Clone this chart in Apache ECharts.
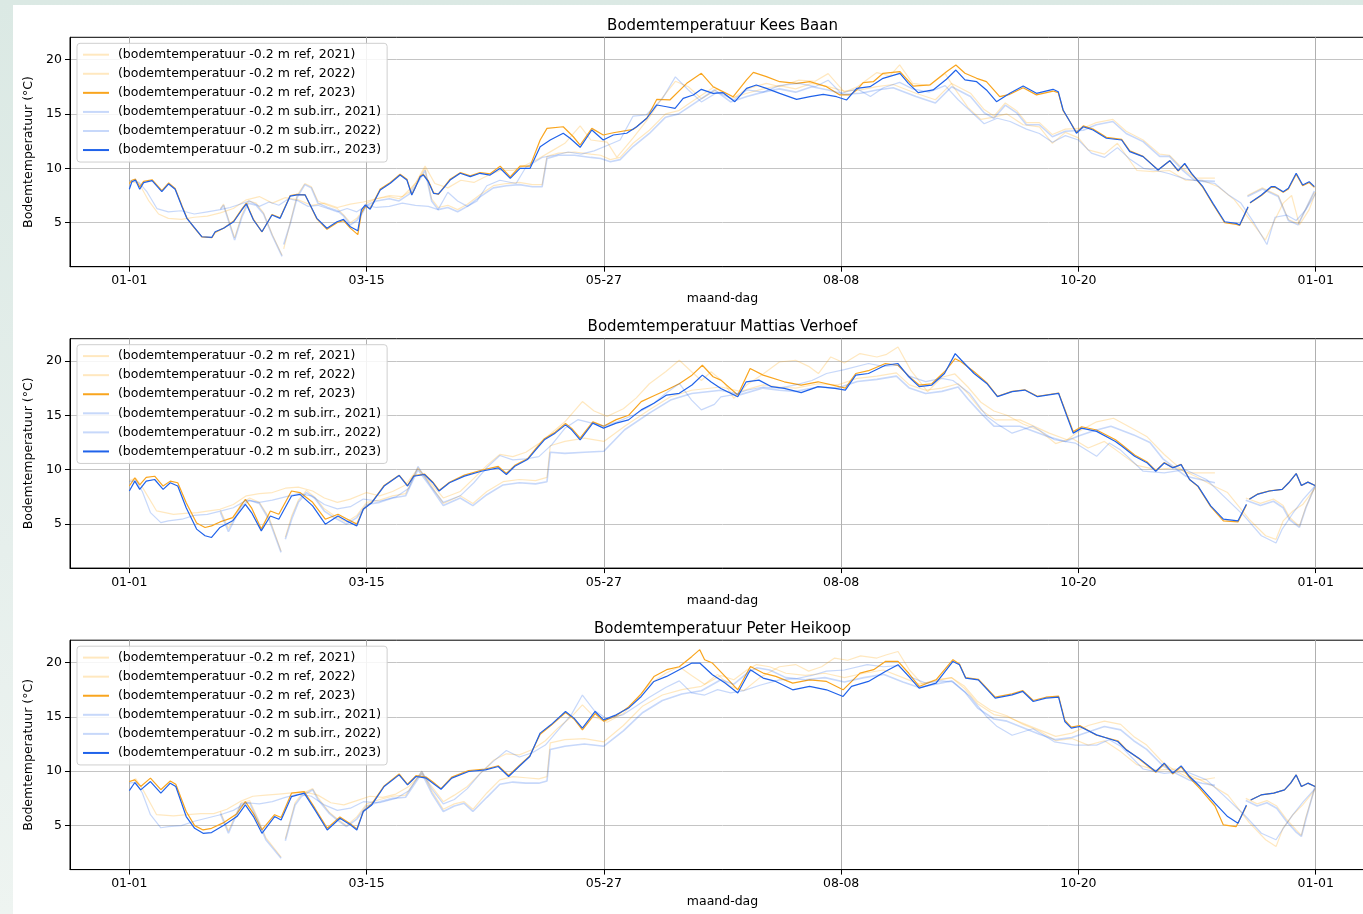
<!DOCTYPE html>
<html><head><meta charset="utf-8">
<script src="https://cdn.jsdelivr.net/npm/echarts@6/dist/echarts.min.js"></script>
<style>
html,body{margin:0;padding:0;width:1363px;height:914px;overflow:hidden;background:linear-gradient(180deg,#dbe9e4 0%,#e6efec 60%,#eef4f1 100%);}
#c{position:absolute;left:13px;top:5px;width:1380px;height:909px;background:#ffffff;}
</style></head><body><div id="c"></div>
<script>
// ---------- axis / text data ----------
const xTickValues = [0, 73, 146, 219, 292, 365];
const xTickLabels = ['01-01', '03-15', '05-27', '08-08', '10-20', '01-01'];
const yTickValues = [5, 10, 15, 20];
const chartTitles = ['Bodemtemperatuur Kees Baan', 'Bodemtemperatuur Mattias Verhoef', 'Bodemtemperatuur Peter Heikoop'];
const seriesNames = ['(bodemtemperatuur -0.2 m ref, 2021)', '(bodemtemperatuur -0.2 m ref, 2022)', '(bodemtemperatuur -0.2 m ref, 2023)',
  '(bodemtemperatuur -0.2 m sub.irr., 2021)', '(bodemtemperatuur -0.2 m sub.irr., 2022)', '(bodemtemperatuur -0.2 m sub.irr., 2023)'];

// ---------- Kees Baan ----------
const kbRef2021 = [[28,6.3],[29,6.7],[32.4,3.6],[34.6,5.7],[36.6,7.0],[39,6.8],[41.3,5.9],[44,3.9],[47,2.0],[47.2,null],[47.5,2.6],[49.5,5.0],[51.6,7.5],[54,8.6],[56,8.3],[58,7.0],[61,6.6],[64,6.3],[66,5.7],[68,5.0],[70,5.4],[71.5,6.0],[73,6.8],[76,7.2],[80,7.4],[83,7.2],[86,7.8],[89,9.0],[91,10.0],[93,7.2],[95,6.4],[98,6.6],[101,6.2],[104,6.7],[108,7.6],[112,8.4],[116,8.6],[120,8.7],[124,8.5],[127,8.5],[128.5,11.1],[132,11.4],[137,11.5],[142,11.3],[145,11.2],[148,10.8],[151,11.0],[155,12.3],[160,13.5],[165,15.0],[169,15.3],[172,15.9],[175,16.5],[180,17.5],[185,16.4],[190,16.9],[195,17.3],[200,17.6],[205,17.3],[210,17.8],[215,17.5],[220,17.1],[225,17.2],[230,17.5],[235,17.7],[242,16.9],[248,16.3],[253,17.8],[258.8,16.9],[263,15.4],[266,14.8],[269.5,16.0],[273,15.3],[276,14.2],[280,14.2],[284,13.1],[288,13.6],[293.5,13.7],[297.5,14.2],[302.6,14.5],[306.7,13.4],[311.9,12.6],[317,11.3],[320,11.2],[324,10.0],[327.8,9.1],[334,9.1],[334.5,null],[344,7.5],[348.6,8.2],[353.5,7.5],[356.6,5.3],[359.6,4.9],[364.6,7.8]];
const kbRef2022 = [[0,8.8],[3,8.6],[6,7.0],[9,5.8],[12,5.4],[16,5.3],[20,5.5],[24,5.6],[28,5.9],[32,6.3],[36,7.1],[40,7.4],[44,6.8],[48,7.3],[52,7.1],[56,6.6],[60,6.8],[64,6.4],[68,6.7],[72,6.9],[76,7.2],[80,7.5],[84,7.4],[88,8.6],[91,10.2],[94,8.6],[98,8.2],[102,8.9],[106,8.7],[110,9.3],[114,9.8],[118,9.8],[122,10.3],[126,10.9],[130,11.6],[134,12.3],[138.7,13.9],[142,12.6],[147,12.4],[150,11.0],[155,12.8],[160,14.7],[164,16.5],[168,18.0],[172,17.5],[176,16.4],[181,17.3],[186,16.5],[190,17.3],[196,17.8],[200,17.5],[206,18.1],[211,18.0],[215,18.7],[220,17.0],[224,17.5],[230,18.8],[234,18.5],[237,19.5],[241,17.8],[246,17.6],[251,18.7],[254,17.3],[258,15.6],[262,14.5],[266,14.7],[270,15.0],[275,14.0],[280,13.8],[284,12.3],[288,13.3],[292,12.8],[295,11.7],[300,11.3],[304,12.3],[310,9.8],[315,9.7],[320,9.8],[325,8.9],[330,8.9],[335,8.3],[340,7.1],[345,5.2],[349.5,3.4],[352,5.0],[355,6.8],[357.6,7.5],[360,4.8],[363,6.2],[365,7.8]];
const kbRef2023 = [[0,8.6],[0.8,8.9],[1.9,9.0],[3.2,8.3],[4.4,8.8],[7,8.95],[10,7.95],[12.1,8.65],[14.1,8.15],[16.2,6.55],[17.7,5.45],[19.8,4.6],[22.3,3.7],[25.4,3.62],[26.4,4.1],[29,4.5],[32.1,5.15],[34.6,6.25],[36,6.8],[38.2,5.3],[40.8,4.15],[43.9,5.75],[46.4,5.45],[49.5,7.5],[51.6,7.6],[54.1,7.55],[57.7,5.35],[60.8,4.4],[63.9,5.0],[65.9,5.2],[68,4.5],[70.3,3.9],[71.4,5.9],[72.6,6.5],[74.1,6.3],[77.2,8.1],[80.3,8.7],[83.3,9.45],[85.4,9.0],[86.9,7.6],[87.9,8.2],[89.5,9.3],[90.5,9.45],[92,8.85],[93.6,7.75],[95.1,7.6],[96.6,8.2],[98.7,9.0],[101.8,9.6],[104.9,9.3],[107.9,9.6],[111,9.5],[114.1,10.2],[117.2,9.2],[120.2,10.2],[123.3,10.2],[126.4,12.6],[128.5,13.67],[133.5,13.82],[136.6,12.9],[138.7,12.14],[142.3,13.67],[145.8,13.06],[148.9,13.27],[155.1,13.58],[159.2,14.6],[162.3,16.34],[166.3,16.28],[171.5,17.81],[176,18.73],[179.6,17.5],[185.8,16.58],[189.9,18.12],[192,18.82],[196,18.42],[200.1,17.96],[205.3,17.81],[209.4,17.96],[214.5,17.5],[218.6,16.74],[221.7,16.74],[223.8,17.2],[225.8,17.87],[228.9,17.96],[231.9,18.73],[237.1,18.88],[241.2,17.56],[246.3,17.66],[251.4,18.88],[254.3,19.49],[257.1,18.73],[260.7,18.27],[263.7,17.96],[267.8,16.58],[270.9,16.8],[275,17.4],[279.1,16.75],[284.2,17.1],[285.8,16.95],[287.3,15.3],[289.4,14.3],[291.4,13.3],[293.5,13.9],[296.5,13.6],[300.6,12.85],[305.3,12.65],[307.8,11.6],[311.9,11.1],[316.5,9.85],[320.1,10.7],[322.7,9.75],[324.7,10.4],[326.8,9.5],[330.3,8.25],[333.4,6.7],[337,5.0],[340.6,4.85],[341.6,4.75],[344.2,6.4],[344.5,null],[344.8,6.8],[348.3,7.5],[351.3,8.25],[352.5,8.25],[355,7.8],[356.6,8.1],[359,9.45],[361,8.4],[363,8.7],[364.6,8.25]];
const kbSub2021 = [[28,6.2],[29,6.6],[32.4,3.4],[34.6,5.5],[36.6,6.8],[39,6.6],[41.3,5.8],[44,3.8],[47,1.9],[47.2,null],[47.5,3.0],[49.5,4.9],[51.6,7.3],[54,8.5],[56,8.2],[58,6.8],[61,6.4],[64,6.1],[66,5.6],[68,4.8],[70,5.2],[71.5,5.8],[73,6.6],[76,7.0],[80,7.2],[83,7.0],[86,7.6],[89,8.8],[91,9.8],[93,7.0],[95,6.2],[98,6.4],[101,6.0],[104,6.5],[108,7.4],[112,8.2],[116,8.4],[120,8.5],[124,8.3],[127,8.3],[128.5,10.9],[132,11.2],[137,11.2],[142,11.0],[145,10.9],[148,10.6],[151,10.8],[155,12.0],[160,13.2],[165,14.7],[169,15.0],[172,15.6],[175,16.2],[180,17.2],[185,16.1],[190,16.6],[195,17.0],[200,17.3],[205,17.0],[210,17.5],[215,17.2],[220,16.8],[225,16.9],[230,17.2],[235,17.4],[242,16.6],[248,16.0],[253,17.5],[258.8,16.6],[263,15.1],[266,14.6],[269.5,15.8],[273,15.1],[276,14.0],[280,14.0],[284,12.9],[288,13.4],[293.5,13.5],[297.5,14.0],[302.6,14.3],[306.7,13.2],[311.9,12.45],[317,11.1],[320,11.1],[324,9.84],[327.8,8.9],[334,8.8],[334.5,null],[344,7.4],[348.6,8.1],[353.5,7.4],[356.6,5.2],[359.6,4.8],[364.6,7.9]];
const kbSub2022 = [[0,8.9],[3,8.7],[5.5,7.8],[8.5,6.3],[12,6.0],[16,6.1],[20,5.8],[24,6.0],[28,6.2],[31,6.4],[34,6.7],[37,7.0],[40,6.5],[43,6.9],[46,6.6],[49,7.2],[52,7.0],[55,6.5],[58,6.6],[61,6.3],[64,6.0],[67,6.3],[70,6.0],[73,6.6],[76,6.4],[80,6.5],[84,6.8],[88,6.6],[92,6.5],[95,6.2],[98,7.8],[101,7.0],[104,6.5],[107,7.0],[110,8.4],[114,8.9],[119,8.6],[122,10.1],[127,11.0],[131,11.2],[135,11.5],[139,11.3],[143,11.6],[147,12.1],[151,12.6],[155,14.8],[159,14.9],[164,16.4],[168,18.4],[172,17.2],[176,16.1],[181,17.0],[186,16.3],[190,17.2],[195,17.0],[200,17.6],[206,17.8],[211,17.5],[215,18.1],[219,16.9],[224,17.3],[228,16.6],[232,17.4],[237,17.9],[241,17.3],[246,17.0],[251,17.6],[255,16.3],[259,15.2],[263,14.1],[267,14.6],[271,14.3],[276,13.6],[280,13.2],[284,12.4],[288,13.0],[292,12.6],[296,11.4],[300,11.0],[304,11.9],[308,10.8],[312,10.0],[316,9.8],[320,9.5],[325,9.0],[330,8.8],[334,8.6],[338,7.6],[342,6.8],[346,5.0],[350,3.0],[352.5,5.5],[356,5.7],[359,5.2],[362,6.2],[365,7.7]];
const kbSub2023 = [[0,8.07],[0.8,8.77],[1.9,8.92],[3.2,8.07],[4.4,8.68],[7,8.86],[10,7.85],[12.1,8.56],[14.1,8.07],[16.2,6.47],[17.7,5.4],[19.8,4.63],[22.3,3.71],[25.4,3.66],[26.4,4.17],[29,4.49],[32.1,5.09],[34.6,6.17],[36,6.72],[38.2,5.25],[40.8,4.17],[43.9,5.71],[46.4,5.4],[49.5,7.45],[51.6,7.55],[54.1,7.55],[57.7,5.4],[60.8,4.49],[63.9,5.09],[65.9,5.31],[68,4.63],[70.3,4.26],[71.4,6.17],[72.6,6.63],[74.1,6.23],[77.2,8.0],[80.3,8.62],[83.3,9.38],[85.4,8.92],[86.9,7.55],[87.9,8.16],[89.5,9.23],[90.5,9.38],[92,8.77],[93.6,7.7],[95.1,7.64],[96.6,8.16],[98.7,8.92],[101.8,9.54],[104.9,9.23],[107.9,9.54],[111,9.38],[114.1,10.0],[117.2,9.08],[120.2,10.0],[123.3,10.0],[126.4,11.99],[129.5,12.6],[133.5,13.22],[135.6,12.76],[138.7,11.93],[142.3,13.52],[145.8,12.6],[148.9,13.06],[153,13.22],[156.1,13.82],[159.2,14.6],[162.3,15.82],[165.3,15.66],[167.9,15.51],[170.4,16.43],[173.5,16.74],[176,17.26],[179.6,16.89],[182.7,16.95],[186.3,16.12],[189.9,17.35],[192.9,17.66],[196,17.35],[200.1,16.89],[205.3,16.34],[209.4,16.58],[213.5,16.8],[217.6,16.58],[220.7,16.28],[223.8,17.35],[227.9,17.5],[231.9,18.27],[237.1,18.73],[239.7,17.81],[242.7,16.95],[247.3,17.2],[251.4,18.18],[254.3,19.03],[257.1,18.12],[260.7,17.96],[263.7,17.2],[266.8,16.12],[270.9,16.89],[275,17.56],[279.1,16.89],[284.2,17.26],[285.8,17.04],[287.3,15.36],[289.4,14.28],[291.4,13.22],[293.5,13.82],[296.5,13.52],[300.6,12.76],[305.3,12.6],[307.8,11.53],[311.9,11.07],[316.5,9.84],[320.1,10.7],[322.7,9.78],[324.7,10.46],[326.8,9.54],[330.3,8.31],[333.4,6.78],[337,5.09],[340.6,4.94],[341.6,4.79],[344.2,6.47],[344.5,null],[344.8,6.84],[348.3,7.55],[351.3,8.31],[352.5,8.31],[355,7.85],[356.6,8.16],[359,9.54],[361,8.46],[363,8.77],[364.6,8.31]];

// ---------- Mattias Verhoef ----------
const mvRef2021 = [[28,6.3],[30.5,4.6],[34.4,6.9],[37,7.4],[40,7.0],[43,5.6],[46.7,2.5],[47.2,null],[48,3.8],[50,5.8],[52,7.2],[54.5,8.1],[57,7.5],[60,6.4],[63,5.8],[66.8,5.2],[70,5.8],[73,7.0],[77,7.2],[81,7.6],[85,7.8],[88.8,10.2],[92.7,8.6],[96.6,6.9],[101.8,7.6],[105.7,6.9],[110,8.0],[115,8.9],[120,9.1],[125,9.0],[128.5,9.3],[129.5,12.2],[134,12.6],[140,12.9],[146,12.6],[152.4,14.0],[160,15.5],[166.5,16.7],[173,17.3],[182,17.6],[188,17.2],[195,17.8],[200,17.6],[205,17.5],[212,17.9],[218,17.8],[224,18.4],[230,18.6],[236,18.9],[240,17.8],[245,17.3],[250,17.5],[255,17.9],[258,17.0],[262,15.5],[266.4,14.58],[274,14.58],[283,13.36],[288.5,12.75],[292,13.5],[297.6,14.4],[302.8,14.73],[309.3,13.67],[313,13.06],[318.4,11.4],[324.9,9.71],[334,9.71],[334.5,null],[343.5,7.4],[348,6.9],[352,7.3],[355,6.7],[357,5.6],[360,4.8],[362,6.6],[364.8,8.4]];
const mvRef2022 = [[0,9.0],[2,9.2],[4,8.4],[8.4,6.21],[13.6,5.9],[18,6.0],[21,6.06],[24,6.2],[27.9,6.36],[32,6.8],[36,7.6],[40,7.8],[44,7.9],[48,8.3],[52,8.4],[56.4,8.04],[60,7.4],[64,7.0],[68,7.3],[73,7.9],[77,7.6],[81,8.0],[85,8.6],[88.8,10.1],[92.7,8.8],[96.6,7.4],[101.8,8.0],[106,9.2],[110,10.4],[114,11.4],[118,11.2],[122,11.6],[126,12.4],[130,13.4],[134,14.4],[139.4,16.26],[143,15.4],[147,14.9],[152,15.6],[156,16.6],[160,17.9],[165,19.0],[169.2,20.06],[173,19.0],[176,18.2],[179,19.0],[183,18.0],[186,16.56],[190,17.8],[195,18.8],[200,19.9],[205,20.06],[209,19.5],[212,18.84],[215.8,20.36],[220,19.8],[224.8,20.67],[230,20.36],[233,20.6],[236.5,21.28],[240.4,19.15],[245.6,17.17],[250,18.5],[254,18.8],[258,17.6],[262,16.2],[266,15.4],[270,15.0],[275,14.2],[280,13.6],[285,12.4],[290,12.9],[295,12.0],[300,12.6],[305,11.5],[310,10.4],[316,10.0],[322,10.2],[328,9.4],[333,8.6],[337.9,7.9],[344.5,5.45],[349.6,3.93],[352.8,3.6],[355,5.3],[358,6.2],[361,6.8],[364.8,8.3]];
const mvRef2023 = [[0,8.5],[1.7,9.25],[3.2,8.6],[5.2,9.3],[7.8,9.4],[10.4,8.5],[12.6,8.95],[14.9,8.8],[17.5,6.97],[20.7,5.1],[23.3,4.69],[25.3,4.84],[27.9,5.2],[31.8,5.6],[35.7,7.28],[37.6,6.5],[40.6,4.54],[43.4,6.2],[46,5.9],[49.9,8.04],[52.5,7.9],[56.4,7.0],[60.3,5.45],[64.2,5.9],[66.8,5.5],[70,5.0],[72,6.4],[74.6,7.0],[78.4,8.55],[83,9.5],[85.6,8.55],[87.5,9.45],[90.8,9.6],[93.4,8.85],[95.3,8.1],[98.5,8.85],[103.1,9.5],[108.3,9.95],[113.5,10.3],[116,9.65],[118.6,10.4],[122.5,11.0],[125.1,11.95],[127.7,12.85],[131,13.45],[134.2,14.25],[136.1,13.8],[138.7,12.9],[142.6,14.4],[145.9,14.0],[149.8,14.6],[153.6,15.0],[157.5,16.26],[161.4,16.8],[165.3,17.32],[169.2,17.9],[173.1,18.69],[176.3,19.6],[179.6,18.54],[182,18.23],[187.2,16.86],[191,19.3],[195,18.69],[201.5,18.08],[206.7,17.78],[211.9,18.08],[218.4,17.63],[220.3,17.5],[223.5,18.84],[227.4,19.1],[232.6,19.76],[236.5,19.6],[239.8,18.6],[243,17.78],[246.9,17.9],[250.8,19.0],[254.1,20.2],[256,19.9],[259.9,19.0],[263.8,18.0],[267.1,16.75],[271.6,17.2],[275.5,17.35],[279.4,16.75],[285.9,17.05],[288.5,15.0],[290.4,13.5],[293,13.95],[297.6,13.65],[303.4,12.75],[305.4,12.3],[309.3,11.35],[313.2,10.7],[315.8,9.9],[318.4,10.65],[321,10.2],[323.6,10.5],[326.2,9.1],[328.8,8.45],[332.7,6.6],[336.6,5.3],[341.1,5.2],[343.7,6.75],[344.2,null],[344.6,7.3],[347,7.75],[350.8,8.05],[354.7,8.2],[356.7,8.8],[359,9.65],[360.6,8.55],[362.6,8.86],[364.8,8.55]];
const mvSub2021 = [[28,6.1],[30.5,4.3],[34.4,6.6],[37,7.2],[40,6.9],[43,5.4],[46.7,2.4],[47.2,null],[48,3.6],[50,5.5],[52,7.0],[54.5,7.9],[57,7.4],[60,6.2],[63,5.6],[66.8,5.0],[70,5.6],[73,6.8],[77,7.0],[81,7.4],[85,7.6],[88.8,10.0],[92.7,8.4],[96.6,6.7],[101.8,7.4],[105.7,6.7],[110,7.7],[115,8.6],[120,8.8],[125,8.7],[128.5,8.9],[129.5,11.6],[134,11.5],[140,11.6],[146,11.7],[152.4,13.67],[160,15.2],[166.5,16.4],[173,17.0],[182,17.3],[188,16.9],[195,17.5],[200,17.3],[205,17.2],[212,17.6],[218,17.5],[224,18.1],[230,18.3],[236,18.6],[240,17.5],[245,17.0],[250,17.2],[255,17.6],[258,16.5],[262,15.2],[266,14.0],[274,14.0],[283,13.0],[288,12.6],[292,13.1],[297,13.6],[302,14.0],[309,13.2],[314,12.5],[318,11.0],[325,9.4],[334,8.8],[334.5,null],[343.5,7.2],[348,6.7],[352,7.1],[355,6.5],[357,5.4],[360,4.7],[362,6.5],[364.8,8.5]];
const mvSub2022 = [[0,8.9],[2,9.0],[4,8.0],[6.5,6.06],[9.7,5.14],[12,5.3],[16.2,5.45],[20,5.8],[24,5.9],[28,6.2],[32,6.5],[36,7.2],[40,7.0],[44,7.2],[48,7.5],[52,7.8],[56,7.6],[60,6.8],[64,6.4],[68,6.6],[72,7.3],[77,7.1],[82,7.5],[86,8.3],[88.8,10.3],[92.7,8.5],[96.6,7.0],[101.8,7.6],[106,8.8],[110,10.2],[114,11.3],[118,10.9],[122,11.0],[126,11.2],[130,12.3],[134,13.8],[138,14.6],[142,14.3],[146,14.0],[150,14.4],[155,15.0],[160,15.8],[165,17.0],[169.2,17.93],[173,16.4],[176,15.5],[180,16.0],[182,16.7],[186,16.9],[190,17.3],[195,17.6],[200,17.5],[205,17.8],[210,18.2],[214.5,18.84],[220,19.2],[227.4,19.76],[232,19.5],[236.5,19.6],[240,18.6],[245,18.1],[250,18.4],[253.4,18.2],[258.6,17.0],[263.8,14.9],[267,14.2],[271.6,13.36],[278,14.0],[284.6,12.75],[291,12.45],[297.6,11.23],[301.5,12.45],[305,11.8],[311.9,9.86],[318.4,9.7],[324.9,10.0],[331.4,9.1],[336.6,7.6],[343,5.75],[348.3,3.93],[352.8,3.26],[354.7,4.54],[358,6.0],[361.2,7.3],[364.8,8.5]];
const mvSub2023 = [[0,8.04],[1.7,8.95],[3.2,8.19],[5.2,8.95],[7.8,9.1],[10.4,8.19],[12.6,8.8],[14.9,8.5],[17.5,6.51],[20.7,4.54],[23.3,3.93],[25.3,3.77],[27.9,4.69],[31.8,5.3],[35.7,6.82],[37.6,6.06],[40.6,4.38],[43.4,5.75],[46,5.45],[49.9,7.58],[52.5,7.73],[56.4,6.67],[60.3,4.99],[64.2,5.75],[66.8,5.3],[70,4.84],[72,6.36],[74.6,6.97],[78.4,8.5],[83,9.47],[85.6,8.5],[87.5,9.4],[90.8,9.56],[93.4,8.8],[95.3,8.04],[98.5,8.8],[103.1,9.41],[108.3,9.86],[113.5,10.17],[116,9.56],[118.6,10.32],[122.5,10.93],[125.1,11.84],[127.7,12.75],[131,13.36],[134.2,14.12],[136.1,13.67],[138.7,12.75],[142.6,14.28],[145.9,13.82],[149.8,14.28],[153.6,14.58],[157.5,15.5],[161.4,16.1],[165.3,16.86],[169.2,17.02],[173.1,17.78],[176.3,18.69],[178.9,18.08],[182,17.47],[187.2,16.71],[189.8,18.08],[193.7,18.23],[197.6,17.63],[201.5,17.47],[206.7,17.08],[211.9,17.63],[217.1,17.47],[220.3,17.32],[223.5,18.69],[227.4,18.84],[232.6,19.6],[236.5,19.76],[239.8,18.54],[243,17.63],[246.9,17.78],[250.8,18.84],[254.1,20.67],[256,20.06],[259.9,18.84],[263.8,17.93],[267.1,16.71],[271.6,17.17],[275.5,17.32],[279.4,16.71],[285.9,17.02],[288.5,14.89],[290.4,13.36],[293,13.82],[297.6,13.52],[303.4,12.6],[305.4,12.15],[309.3,11.23],[313.2,10.62],[315.8,9.86],[318.4,10.62],[321,10.17],[323.6,10.47],[326.2,9.1],[328.8,8.49],[332.7,6.67],[336.6,5.45],[341.1,5.3],[343.7,6.82],[344.2,null],[344.6,7.28],[347,7.73],[350.8,8.04],[354.7,8.19],[356.7,8.8],[359,9.65],[360.6,8.55],[362.6,8.86],[364.8,8.55]];

// ---------- Peter Heikoop ----------
const phRef2021 = [[28,6.3],[30.5,4.5],[34.4,7.1],[37,7.3],[39.5,5.7],[42,3.9],[46.7,2.1],[47.2,null],[48,3.8],[51,7.1],[53,7.9],[56.4,8.4],[58,7.6],[61.6,6.2],[64,5.6],[66.8,5.0],[70,5.8],[73,7.0],[77,7.4],[81,7.7],[85,7.8],[90,10.0],[93,8.2],[96.6,6.5],[100,7.0],[103,7.2],[105.7,6.5],[110,8.0],[114,9.2],[118,9.5],[122,9.4],[126,9.3],[128.5,9.5],[129.5,12.6],[134,12.9],[140,13.0],[146,12.7],[152,14.2],[158,16.0],[164,17.0],[170,17.5],[176,17.8],[182,18.8],[186,18.4],[190,19.3],[193,19.8],[197,19.6],[202,19.0],[208,18.8],[214,19.0],[220,18.6],[226,19.0],[232,19.3],[238,18.6],[243,18.0],[248,18.3],[253,18.6],[257,17.6],[261,16.2],[266,15.2],[270,15.0],[275,14.4],[280,13.8],[285,13.2],[290,13.5],[295,14.2],[300,14.6],[305,14.3],[309,13.2],[313,12.4],[318,10.8],[322,10.0],[326,9.4],[330,9.2],[334,9.4],[334.5,null],[343.5,7.5],[347,7.0],[350,7.3],[353,6.8],[356,5.6],[359,4.6],[360.6,4.1],[362,5.8],[364.8,8.5]];
const phRef2022 = [[0,9.0],[2,9.3],[4,8.4],[8.4,6.0],[13.6,5.9],[18,6.0],[22,6.1],[26,6.1],[30,6.5],[34,7.2],[38,7.7],[42,7.8],[46,7.9],[50,8.0],[54,8.1],[58,7.8],[62,7.1],[66,6.9],[70,7.3],[74,7.7],[78,7.6],[82,7.9],[86,8.6],[90,9.8],[93,8.6],[96.6,7.2],[100,7.8],[104,8.6],[108,9.8],[112,11.0],[116,11.6],[120,11.5],[124,12.0],[128,12.8],[132,14.0],[136,15.0],[139.4,16.1],[143,15.0],[147,14.5],[152,15.3],[156,16.6],[160,18.0],[165,19.0],[169.2,19.6],[173,18.8],[177,18.0],[181,18.9],[185,17.8],[189,17.4],[194,18.6],[200,19.6],[205,19.8],[209,19.2],[213,19.6],[217,20.4],[221,20.2],[225,20.6],[230,20.4],[233,20.7],[236.5,21.0],[240,19.3],[244,18.0],[248,18.4],[253,18.6],[257,17.8],[261,16.4],[265,15.6],[270,15.1],[275,14.3],[280,13.7],[285,12.8],[290,13.0],[295,12.4],[300,12.8],[305,11.8],[310,10.6],[316,10.1],[322,10.2],[328,9.4],[333,8.7],[338,7.8],[344.5,5.3],[349.6,3.7],[352.8,3.07],[355,4.8],[358,6.0],[361,6.9],[364.8,8.3]];
const phRef2023 = [[0,9.05],[1.7,9.2],[3.5,8.6],[6.5,9.36],[9.7,8.3],[12.6,9.1],[14.3,8.8],[17.5,6.29],[20.1,5.0],[22.7,4.6],[25.3,4.75],[29.2,5.3],[33.1,6.1],[35.7,7.2],[38.2,6.1],[40.8,4.6],[44.7,6.0],[46.7,5.75],[49.9,7.98],[53.8,8.13],[57.1,6.6],[60.9,4.75],[64.8,5.8],[68.1,5.15],[70,4.7],[72,6.35],[74.6,7.0],[78.4,8.65],[83,9.75],[85.6,8.8],[88.2,9.6],[91.4,9.45],[93.4,9.0],[95.9,8.4],[99.2,9.45],[104.4,10.05],[109.6,10.2],[113.5,10.5],[116.7,9.6],[119.9,10.5],[123.2,11.4],[126.4,13.4],[129.7,14.2],[134.2,15.4],[136.8,14.8],[139.4,13.8],[143.3,15.3],[145.9,14.6],[149.8,15.1],[153.6,15.9],[157.5,17.1],[161.4,18.7],[165.3,19.33],[169.2,19.6],[173.1,20.55],[175.5,21.17],[177,20.25],[179.4,19.94],[183.3,18.71],[187.2,17.48],[191.1,19.63],[195,19.02],[198.9,18.71],[204.1,18.1],[209.3,18.4],[214.5,18.25],[219.6,17.48],[224.8,19.02],[229,19.33],[232.6,20.09],[236.5,20.09],[239.8,19.0],[243,17.79],[248.2,18.4],[253.4,20.25],[255.4,19.85],[257.3,18.6],[261.2,18.45],[266.4,16.8],[271.6,17.1],[274.9,17.4],[278.1,16.5],[282,16.8],[285.9,16.9],[287.8,14.7],[289.8,14.05],[292.4,14.2],[297.6,13.3],[304.1,12.8],[306.7,12.0],[310.6,11.15],[315.8,9.9],[318.4,10.65],[321,9.75],[323.6,10.4],[326.2,9.4],[329.4,8.4],[334,6.8],[336.6,5.06],[340.5,4.9],[343.7,6.8],[344.3,null],[345,7.36],[348.2,7.82],[352.1,7.98],[355.4,8.28],[357.3,8.9],[359,9.66],[360.6,8.59],[362.6,8.9],[364.8,8.59]];
const phSub2021 = [[28,6.1],[30.5,4.3],[34.4,7.0],[37,7.1],[39.5,5.5],[42,3.7],[46.7,2.0],[47.2,null],[48,3.6],[51,6.9],[53,7.7],[56.4,8.3],[58,7.4],[61.6,6.1],[64,5.5],[66.8,4.9],[70,5.6],[73,6.8],[77,7.2],[81,7.5],[85,7.6],[90,9.8],[93,8.0],[96.6,6.3],[100,6.8],[103,7.05],[105.7,6.3],[110,7.6],[114,8.8],[118,9.0],[122,8.9],[126,8.9],[128.5,9.1],[129.5,12.0],[134,12.3],[140,12.5],[146,12.3],[152,13.7],[158,15.4],[164,16.5],[170,17.1],[176,17.4],[182,18.4],[186,18.0],[190,19.0],[193,19.5],[197,19.3],[202,18.6],[208,18.4],[214,18.6],[220,18.2],[226,18.6],[232,18.9],[238,18.2],[243,17.7],[248,18.0],[253,18.3],[257,17.3],[261,15.8],[266,14.8],[270,14.6],[275,14.0],[280,13.4],[285,12.9],[290,13.1],[295,13.6],[300,14.1],[305,13.8],[309,12.8],[313,12.0],[318,10.5],[322,9.8],[326,9.2],[330,8.9],[334,8.7],[334.5,null],[343.5,7.3],[347,6.8],[350,7.1],[353,6.6],[356,5.4],[359,4.4],[360.6,4.0],[362,5.6],[364.8,8.6]];
const phSub2022 = [[0,8.9],[2,9.0],[4,8.0],[6.5,6.0],[9.7,4.8],[12,4.9],[16,5.0],[20,5.4],[24,5.7],[28,6.0],[32,6.4],[36,7.1],[40,7.0],[44,7.2],[48,7.6],[52,7.9],[56,7.7],[60,6.9],[64,6.4],[68,6.6],[72,7.2],[77,7.1],[82,7.5],[86,8.2],[90,10.0],[93,8.4],[96.6,7.0],[100,7.4],[104,8.4],[108,9.8],[112,10.9],[116,11.9],[120,11.3],[124,11.7],[128,12.4],[132,13.8],[136,15.2],[139.4,17.0],[143,15.6],[147,14.8],[152,15.2],[156,16.0],[160,16.8],[165,17.7],[169.2,18.3],[173,17.2],[177,17.0],[181,17.5],[185,17.2],[189,17.4],[194,17.9],[200,18.4],[205,18.5],[210,18.8],[214.5,19.2],[220,19.3],[227,19.8],[232,19.6],[236.5,19.7],[240,18.7],[245,18.1],[250,18.3],[253.4,18.2],[258.6,16.9],[263.8,15.0],[267,14.1],[271.6,13.3],[278,13.9],[284.6,12.7],[291,12.4],[297.6,12.4],[301.5,12.9],[305,12.3],[311.9,10.2],[318.4,9.8],[324.9,10.0],[331.4,9.2],[336.6,7.8],[343,6.0],[348.3,4.3],[352.8,3.7],[354.7,4.6],[358,6.0],[361.2,7.2],[364.8,8.4]];
const phSub2023 = [[0,8.22],[1.7,8.96],[3.5,8.28],[6.5,9.05],[9.7,7.98],[12.6,8.9],[14.3,8.59],[17.5,5.83],[20.1,4.75],[22.7,4.29],[25.3,4.36],[29.2,5.06],[33.1,5.83],[35.7,6.9],[38.2,5.83],[40.8,4.29],[44.7,5.83],[46.7,5.52],[49.9,7.67],[53.8,7.98],[57.1,6.44],[60.9,4.6],[64.8,5.67],[68.1,5.06],[70,4.6],[72,6.29],[74.6,6.9],[78.4,8.59],[83,9.66],[85.6,8.74],[88.2,9.51],[91.4,9.36],[93.4,8.9],[95.9,8.34],[99.2,9.36],[104.4,9.97],[109.6,10.12],[113.5,10.43],[116.7,9.51],[119.9,10.43],[123.2,11.35],[126.4,13.5],[129.7,14.26],[134.2,15.49],[136.8,14.88],[139.4,13.96],[143.3,15.49],[145.9,14.72],[149.8,15.18],[153.6,15.8],[157.5,16.87],[161.4,18.25],[165.3,18.71],[169.2,19.33],[173.1,19.94],[175.5,19.94],[179.4,18.87],[183.3,18.1],[187.2,17.18],[191.1,19.33],[195,18.56],[198.9,18.25],[204.1,17.48],[209.3,17.79],[214.5,17.48],[219.6,16.87],[222.2,17.79],[227.4,18.25],[232.6,19.17],[236.5,19.79],[239.8,18.71],[243,17.64],[248.2,18.1],[253.4,20.09],[255.4,19.79],[257.3,18.56],[261.2,18.4],[266.4,16.72],[271.6,17.02],[274.9,17.33],[278.1,16.41],[282,16.72],[285.9,16.81],[287.8,14.57],[289.8,13.96],[292.4,14.11],[297.6,13.34],[304.1,12.73],[306.7,11.96],[310.6,11.2],[315.8,9.97],[318.4,10.74],[321,9.82],[323.6,10.49],[326.2,9.51],[329.4,8.59],[334,7.06],[337.9,5.83],[341.1,5.21],[343.7,6.9],[344.3,null],[345,7.36],[348.2,7.82],[352.1,7.98],[355.4,8.28],[357.3,8.9],[359,9.66],[360.6,8.59],[362.6,8.9],[364.8,8.59]];

// ---------- build ----------
const panels = [
  [kbRef2021, kbRef2022, kbRef2023, kbSub2021, kbSub2022, kbSub2023],
  [mvRef2021, mvRef2022, mvRef2023, mvSub2021, mvSub2022, mvSub2023],
  [phRef2021, phRef2022, phRef2023, phSub2021, phSub2022, phSub2023]
];
const lineStyles = [
  {color: 'rgba(255,165,0,0.25)', width: 1.2},
  {color: 'rgba(255,165,0,0.25)', width: 1.2},
  {color: '#f9a51e', width: 1.2},
  {color: 'rgba(30,100,235,0.25)', width: 1.6},
  {color: 'rgba(30,100,235,0.25)', width: 1.2},
  {color: '#1f62ea', width: 1.2}
];
const FONT = 'DejaVu Sans';
const plotTops = [32.3, 333.7, 635.2];
const plotH = 229.4, plotLeft = 57, plotW = 1305;

const grid = [], xAxis = [], yAxis = [], series = [], legend = [], graphic = [];
panels.forEach((p, i) => {
  grid.push({left: plotLeft, top: plotTops[i], width: plotW, height: plotH, show: true, borderColor: '#000', borderWidth: 1, backgroundColor: 'transparent'});
  xAxis.push({
    gridIndex: i, type: 'value', min: -18.25, max: 383.25,
    name: 'maand-dag', nameLocation: 'middle', nameGap: 26,
    nameTextStyle: {fontFamily: FONT, fontSize: 12.5, color: '#000'},
    axisLine: {show: true, onZero: false, lineStyle: {color: '#000', width: 1}},
    axisTick: {show: true, customValues: xTickValues, length: 5, lineStyle: {color: '#000', width: 1}},
    axisLabel: {customValues: xTickValues, formatter: v => xTickLabels[xTickValues.indexOf(v)], margin: 8, fontFamily: FONT, fontSize: 12.5, color: '#000'},
    splitLine: {show: true, lineStyle: {color: '#b0b0b0', width: 1}}
  });
  yAxis.push({
    gridIndex: i, type: 'value', min: 0.956, max: 22.04,
    name: 'Bodemtemperatuur (°C)', nameLocation: 'middle', nameGap: 29, nameRotate: 90,
    nameTextStyle: {fontFamily: FONT, fontSize: 12.5, color: '#000'},
    axisLine: {show: true, onZero: false, lineStyle: {color: '#000', width: 1}},
    axisTick: {show: true, customValues: yTickValues, length: 5, lineStyle: {color: '#000', width: 1}},
    axisLabel: {customValues: yTickValues, margin: 8, fontFamily: FONT, fontSize: 12.5, color: '#000'},
    splitLine: {show: true, lineStyle: {color: '#c4c4c4', width: 1}}
  });
  p.forEach((d, k) => {
    series.push({
      type: 'line', name: seriesNames[k], xAxisIndex: i, yAxisIndex: i, data: d,
      symbol: 'none', showSymbol: false, connectNulls: false, silent: true, animation: false,
      lineStyle: {color: lineStyles[k].color, width: lineStyles[k].width},
      itemStyle: {color: lineStyles[k].color},
      emphasis: {disabled: true}, clip: true
    });
  });
  legend.push({
    left: 64, top: plotTops[i] + 6, orient: 'vertical', data: seriesNames,
    itemWidth: 26, itemHeight: 14, itemGap: 5.07, padding: [4.4, 6, 5, 5],
    backgroundColor: 'rgba(255,255,255,0.85)', borderColor: '#cfcfcf', borderWidth: 1, borderRadius: 3,
    itemStyle: {opacity: 0},
    formatter: n => ' ' + n, selectedMode: false,
    textStyle: {fontFamily: FONT, fontSize: 12.5, color: '#000', lineHeight: 14}
  });
  graphic.push({
    type: 'text', x: 709.5, y: plotTops[i] - 11.5,
    style: {text: chartTitles[i], font: '15px "DejaVu Sans"', fill: '#000', textAlign: 'center', textVerticalAlign: 'middle'}
  });
});

const chart = echarts.init(document.getElementById('c'), null, {renderer: 'canvas'});
chart.setOption({animation: false, grid, xAxis, yAxis, series, legend, graphic, tooltip: {show: false}});
</script></body></html>
